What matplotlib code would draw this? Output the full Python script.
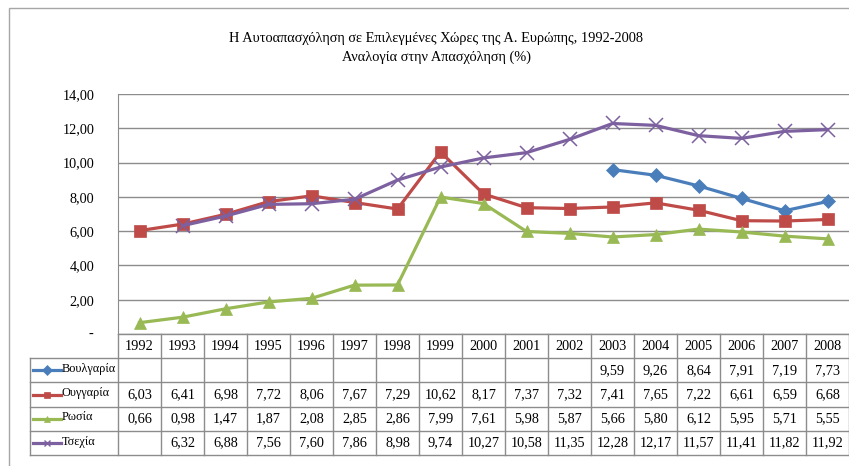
import matplotlib
matplotlib.use("Agg")
import matplotlib.pyplot as plt
import numpy as np
from matplotlib.patches import Rectangle
from matplotlib.lines import Line2D

plt.rcParams['font.family'] = ['Liberation Serif', 'DejaVu Serif']

W, H = 849, 466

years = list(range(1992, 2009))
countries = ['Βουλγαρία', 'Ουγγαρία', 'Ρωσία', 'Τσεχία']
bulgaria = [None] * 11 + [9.59, 9.26, 8.64, 7.91, 7.19, 7.73]
hungary = [6.03, 6.41, 6.98, 7.72, 8.06, 7.67, 7.29, 10.62, 8.17, 7.37,
           7.32, 7.41, 7.65, 7.22, 6.61, 6.59, 6.68]
russia = [0.66, 0.98, 1.47, 1.87, 2.08, 2.85, 2.86, 7.99, 7.61, 5.98,
          5.87, 5.66, 5.80, 6.12, 5.95, 5.71, 5.55]
czech = [None, 6.32, 6.88, 7.56, 7.60, 7.86, 8.98, 9.74, 10.27, 10.58,
         11.35, 12.28, 12.17, 11.57, 11.41, 11.82, 11.92]
series = [bulgaria, hungary, russia, czech]

colors = ['#4A7EBB', '#BE4B48', '#98B954', '#7D60A0']
markers = ['D', 's', '^', 'x']
msizes = [7.5, 8.5, 8.5, 9.5]
yticks = [0, 2, 4, 6, 8, 10, 12, 14]
title = ('Η Αυτοαπασχόληση σε Επιλεγμένες Χώρες της Α. Ευρώπης, 1992-2008\n'
         'Αναλογία στην Απασχόληση (%)')

GRID = '#8C8C8C'
FS = 10.3


def px(x0, y0, x1, y1):
    # pixel box -> figure fraction rect
    return [x0 / W, 1 - y1 / H, (x1 - x0) / W, (y1 - y0) / H]


def fmt(v):
    return '' if v is None else f'{v:.2f}'.replace('.', ',')


fig = plt.figure(figsize=(W / 100, H / 100), dpi=100)
fig.patches.append(Rectangle((9 / W, -0.1), 1.2, 1 - 8 / H + 0.1,
                             transform=fig.transFigure, fill=False,
                             edgecolor='#A6A6A6', linewidth=1))

fig.text(436 / W, 1 - 48 / H, title, ha='center', va='center',
         fontsize=10.4, linespacing=1.6)

# line chart
ax = fig.add_axes(px(118, 94, 849, 334))
x = np.arange(len(years))
for vals, c, m, ms, name in zip(series, colors, markers, msizes, countries):
    y = np.array([np.nan if v is None else v for v in vals])
    ax.plot(x, y, color=c, lw=2.3, marker=m, markersize=ms,
            markeredgewidth=1.1 if m == 'x' else 0.5, markeredgecolor=c,
            markerfacecolor=c, label=name, zorder=3)

ax.set_xlim(-0.5, len(years) - 0.5)
ax.set_ylim(0, 14)
ax.set_yticks(yticks)
ax.set_yticklabels(['' if t == 0 else f'{t:.2f}'.replace('.', ',') for t in yticks],
                   fontsize=FS)
ax.text(-0.034, 0, '-', transform=ax.get_yaxis_transform(), ha='right',
        va='center', fontsize=FS)
ax.tick_params(axis='y', length=0, pad=17)
ax.set_xticks([])
ax.grid(axis='y', color=GRID, lw=1)
for s in ['top', 'right', 'bottom']:
    ax.spines[s].set_visible(False)
ax.spines['left'].set_color(GRID)

# data table under the chart
tax = fig.add_axes(px(118, 334, 849, 455))
tax.set_xlim(-0.5, len(years) - 0.5)
tax.set_ylim(5, 0)
tax.axis('off')
left = -0.5 - 88 / 43.0
n = len(years)
lk = dict(color=GRID, lw=1, clip_on=False)
tax.plot([-0.5, n - 0.5], [0, 0], **lk)
for r in range(1, 6):
    tax.plot([left, n - 0.5], [r, r], **lk)
tax.plot([left, left], [1, 5], **lk)
for i in range(n + 1):
    tax.plot([i - 0.5, i - 0.5], [0, 5], **lk)

for i, yr in enumerate(years):
    tax.text(i, 0.5, str(yr), ha='center', va='center', fontsize=FS)
for r, (vals, c, m, name) in enumerate(zip(series, colors, markers, countries), start=1):
    for i, v in enumerate(vals):
        tax.text(i, r + 0.5, fmt(v), ha='center', va='center', fontsize=FS)
    kx0 = left + 3 / 43.0
    kx1 = left + 31 / 43.0
    tax.add_line(Line2D([kx0, kx1], [r + 0.5, r + 0.5], color=c, lw=2.3,
                        clip_on=False))
    tax.add_line(Line2D([(kx0 + kx1) / 2], [r + 0.5], color=c, marker=m,
                        markersize=5, markeredgewidth=1 if m == 'x' else 0.5,
                        markerfacecolor=c, markeredgecolor=c, clip_on=False))
    tax.text(kx1 + 0.01, r + 0.45, name, ha='left', va='center', fontsize=8.8)

fig.savefig('out.png', dpi=100)
